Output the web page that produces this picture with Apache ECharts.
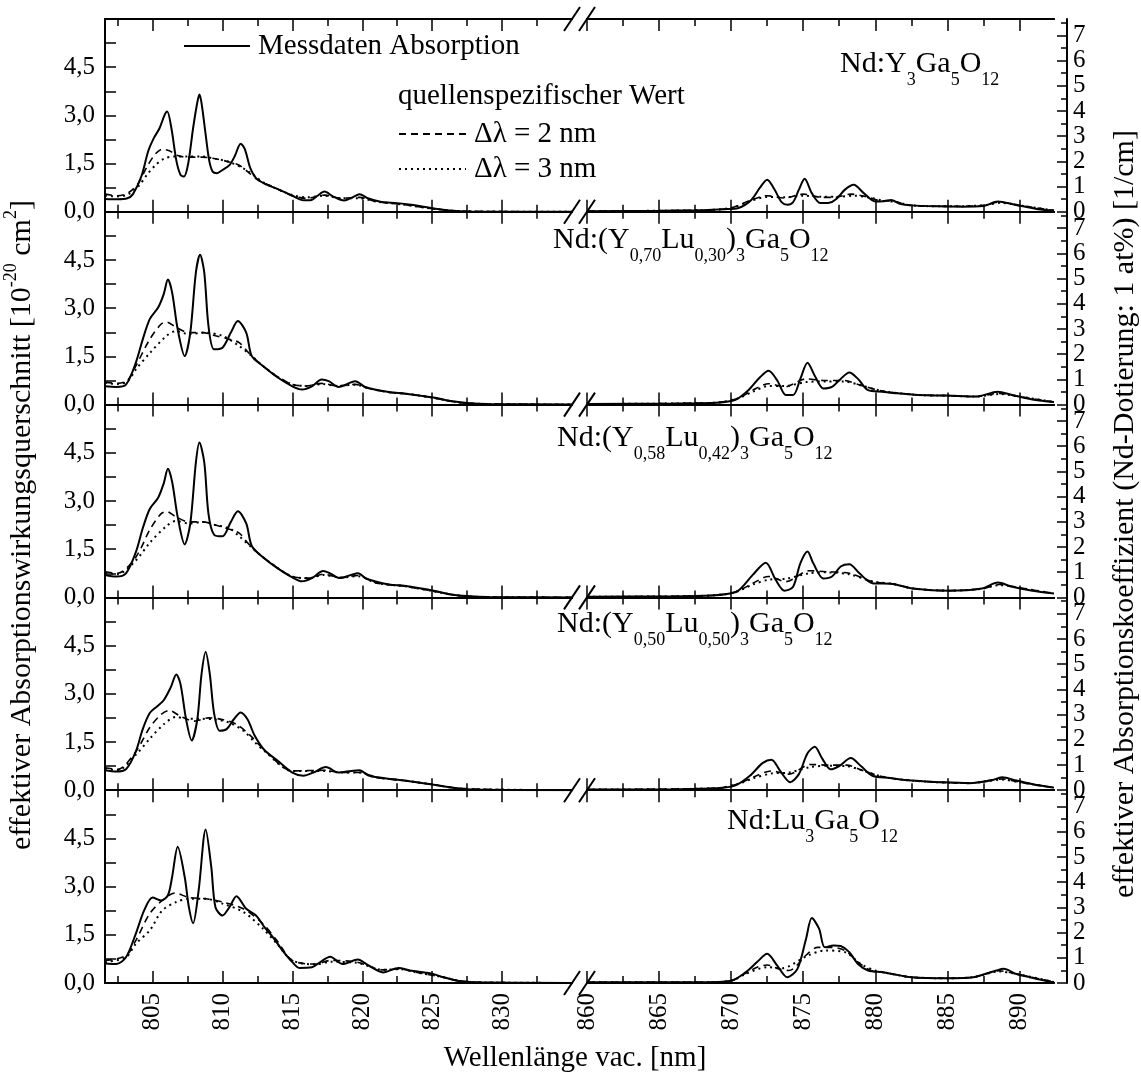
<!DOCTYPE html>
<html><head><meta charset="utf-8">
<script src="https://cdn.jsdelivr.net/npm/echarts@6/dist/echarts.min.js"></script>
<style>html,body{margin:0;padding:0;background:#fff}#c{width:1141px;height:1081px}</style>
</head><body><div id="c"></div>
<script>
const FONT = 'Liberation Serif';

// ---------- tick labels ----------
const xLeftMajor = [805, 810, 815, 820, 825, 830];
const xLeftMinor = [802.5, 807.5, 812.5, 817.5, 822.5, 827.5, 832.5];
const xRightMajor = [860, 865, 870, 875, 880, 885, 890];
const xRightMinor = [862.5, 867.5, 872.5, 877.5, 882.5, 887.5];
const yLeftLabels = [0, 1.5, 3, 4.5];
const yLeftTicks = [0, 0.75, 1.5, 2.25, 3, 3.75, 4.5, 5.25];
const yRightMajor = [0, 1, 2, 3, 4, 5, 6, 7];
const yRightMinor = [0.5, 1.5, 2.5, 3.5, 4.5, 5.5, 6.5, 7.5];

// ---------- panel labels ----------
const panelLabels = [
  '{m|Nd:Y}{s|3}{m|Ga}{s|5}{m|O}{s|12}',
  '{m|Nd:(Y}{s|0,70}{m|Lu}{s|0,30}{m|)}{s|3}{m|Ga}{s|5}{m|O}{s|12}',
  '{m|Nd:(Y}{s|0,58}{m|Lu}{s|0,42}{m|)}{s|3}{m|Ga}{s|5}{m|O}{s|12}',
  '{m|Nd:(Y}{s|0,50}{m|Lu}{s|0,50}{m|)}{s|3}{m|Ga}{s|5}{m|O}{s|12}',
  '{m|Nd:Lu}{s|3}{m|Ga}{s|5}{m|O}{s|12}'
];

// ---------- data: [wavelength nm, cross section 1e-20 cm^2] ----------
// Panel 1: Nd:Y3Ga5O12
const meas1L = [[801.6,0.40],[802.5,0.39],[803.2,0.42],[803.6,0.55],[804.2,1.10],[804.7,1.9],[805.1,2.3],[805.5,2.6],[805.85,3.0],[806.05,3.12],[806.35,2.6],[806.7,1.6],[807.0,1.15],[807.25,1.1],[807.55,1.5],[807.9,2.6],[808.2,3.4],[808.35,3.65],[808.5,3.4],[808.8,2.4],[809.05,1.6],[809.3,1.25],[809.6,1.2],[810.0,1.3],[810.5,1.45],[810.9,1.75],[811.3,2.12],[811.6,1.95],[812.0,1.35],[812.4,1.05],[813.0,0.88],[814.0,0.7],[815.0,0.5],[815.8,0.36],[816.3,0.36],[816.8,0.5],[817.3,0.63],[817.9,0.48],[818.7,0.35],[819.3,0.45],[819.8,0.55],[820.4,0.42],[821.3,0.31],[822.5,0.27],[823.5,0.22],[824.5,0.15],[825.5,0.08],[826.5,0.03],[827.5,0.01],[835,0.0]];
const dash1L = [[801.6,0.55],[802.5,0.5],[803.3,0.6],[804.0,0.9],[804.6,1.4],[805.2,1.8],[805.7,1.95],[806.2,1.9],[806.8,1.75],[807.5,1.7],[808.5,1.7],[809.5,1.65],[810.5,1.55],[811.2,1.45],[811.8,1.25],[812.5,1.0],[813.5,0.8],[815,0.5],[816,0.42],[817.3,0.52],[818.5,0.42],[819.8,0.45],[821,0.32],[823,0.22],[825,0.1],[827,0.02],[835,0]];
const dot1L = [[801.6,0.5],[802.5,0.48],[803.3,0.55],[804.0,0.8],[804.6,1.15],[805.2,1.45],[805.8,1.65],[806.5,1.72],[807.5,1.72],[808.5,1.72],[809.5,1.65],[810.5,1.55],[811.5,1.35],[812.2,1.15],[813,0.9],[815,0.52],[816,0.45],[817.3,0.5],[818.5,0.42],[819.8,0.42],[821,0.32],[823,0.22],[825,0.1],[827,0.02],[835,0]];
const meas1R = [[860,0.02],[865,0.03],[868,0.05],[869.5,0.08],[870.5,0.12],[871.4,0.37],[872.0,0.75],[872.5,1.0],[873.0,0.7],[873.5,0.3],[873.9,0.22],[874.3,0.3],[874.7,0.69],[875.1,1.03],[875.6,0.58],[876.2,0.27],[876.8,0.28],[877.3,0.4],[877.9,0.69],[878.5,0.84],[879.2,0.58],[880.0,0.32],[880.6,0.33],[881.1,0.37],[881.7,0.25],[882.5,0.2],[884.4,0.17],[886,0.16],[887.5,0.18],[888.5,0.32],[889.7,0.22],[891.3,0.08],[892.4,0.04]];
const dash1R = [[860,0.02],[868,0.05],[870,0.12],[871.3,0.35],[872.5,0.5],[873.7,0.43],[875.0,0.55],[876.3,0.45],[877.2,0.45],[878.3,0.55],[879.3,0.48],[880.3,0.35],[881.2,0.33],[882.5,0.2],[885,0.17],[887.5,0.2],[888.6,0.3],[890,0.2],[892.4,0.04]];
const dot1R = [[860,0.02],[868,0.05],[870,0.12],[871.3,0.33],[872.5,0.46],[873.7,0.45],[875.0,0.5],[876.3,0.47],[877.5,0.47],[878.5,0.5],[879.5,0.45],[880.5,0.35],[881.5,0.3],[882.5,0.2],[885,0.17],[887.5,0.2],[888.7,0.28],[890,0.2],[892.4,0.04]];

// Panel 2: Nd:(Y0,70Lu0,30)3Ga5O12
const meas2L = [[801.6,0.57],[802.4,0.55],[803.1,0.62],[803.8,1.3],[804.3,2.03],[804.8,2.66],[805.4,3.02],[805.8,3.44],[806.1,3.89],[806.4,3.49],[806.8,2.34],[807.3,1.51],[807.7,2.24],[808.1,4.11],[808.4,4.66],[808.7,4.11],[809.0,2.45],[809.4,1.72],[810.0,1.77],[810.6,2.24],[811.1,2.6],[811.7,2.24],[812.1,1.51],[812.9,1.2],[813.8,0.89],[815.0,0.57],[815.7,0.47],[816.4,0.57],[817.1,0.78],[817.6,0.73],[818.3,0.55],[819.5,0.73],[820.2,0.55],[821.9,0.39],[823.1,0.34],[825.2,0.21],[826.2,0.12],[827.5,0.05],[829,0.02],[835,0]];
const dash2L = [[801.6,0.7],[802.5,0.66],[803.2,0.75],[803.8,1.2],[804.8,2.03],[805.6,2.5],[806.0,2.57],[806.7,2.4],[807.6,2.24],[808.6,2.24],[809.5,2.14],[810.5,2.03],[811.2,1.93],[811.9,1.6],[812.9,1.2],[814,0.85],[815,0.63],[816,0.58],[817.1,0.66],[818.3,0.58],[819.5,0.63],[820.5,0.5],[822,0.38],[823.5,0.32],[825.2,0.2],[827,0.06],[829,0.02],[835,0]];
const dot2L = [[801.6,0.68],[802.5,0.64],[803.2,0.72],[803.8,1.09],[804.8,1.6],[806.0,2.14],[806.7,2.29],[807.6,2.19],[808.6,2.24],[810.0,2.14],[811.2,1.82],[812.1,1.51],[812.9,1.2],[814,0.85],[815,0.63],[816,0.58],[817.1,0.64],[818.3,0.58],[819.5,0.62],[820.5,0.5],[822,0.38],[823.5,0.32],[825.2,0.2],[827,0.06],[829,0.02],[835,0]];
const meas2R = [[860,0.02],[866,0.03],[869,0.06],[870.3,0.15],[871.2,0.45],[872.0,0.85],[872.6,1.05],[873.2,0.75],[873.8,0.3],[874.3,0.3],[874.8,0.8],[875.3,1.3],[875.8,0.9],[876.4,0.5],[877.0,0.55],[877.6,0.8],[878.2,1.0],[878.8,0.8],[879.5,0.45],[880.5,0.4],[881.5,0.35],[883,0.3],[885,0.28],[887,0.25],[888.5,0.4],[889.5,0.3],[891,0.15],[892.4,0.08]];
const dash2R = [[860,0.02],[869,0.06],[870.5,0.2],[871.5,0.45],[872.6,0.65],[873.7,0.55],[875.2,0.8],[876.5,0.75],[877.8,0.75],[879,0.6],[880.5,0.42],[883,0.3],[885,0.28],[887,0.25],[888.6,0.35],[890,0.25],[892.4,0.08]];
const dot2R = [[860,0.02],[869,0.06],[870.5,0.2],[871.5,0.4],[872.6,0.58],[873.7,0.58],[875.2,0.7],[876.5,0.72],[877.8,0.72],[879,0.6],[880.5,0.42],[883,0.3],[885,0.28],[887,0.25],[888.6,0.33],[890,0.25],[892.4,0.08]];

// Panel 3: Nd:(Y0,58Lu0,42)3Ga5O12
const meas3L = [[801.6,0.7],[802.4,0.65],[803.1,0.75],[803.8,1.4],[804.3,2.15],[804.8,2.75],[805.4,3.1],[805.8,3.55],[806.1,4.0],[806.4,3.6],[806.8,2.5],[807.3,1.65],[807.7,2.3],[808.1,4.2],[808.35,4.82],[808.7,4.2],[809.0,2.6],[809.4,1.95],[810.0,1.9],[810.6,2.35],[811.1,2.68],[811.7,2.3],[812.1,1.6],[812.9,1.25],[813.8,0.95],[815.0,0.62],[815.7,0.5],[816.4,0.6],[817.2,0.82],[817.7,0.75],[818.4,0.6],[819.2,0.7],[819.7,0.75],[820.3,0.58],[821.9,0.4],[823.0,0.36],[825.2,0.2],[826.2,0.1],[827.5,0.04],[829,0.01],[835,0]];
const dash3L = [[801.6,0.8],[802.5,0.75],[803.8,1.25],[804.8,2.1],[805.6,2.6],[806.0,2.67],[806.7,2.5],[807.6,2.35],[808.6,2.35],[809.5,2.25],[810.5,2.12],[811.2,2.0],[811.9,1.65],[812.9,1.25],[815,0.65],[816.2,0.6],[817.2,0.72],[818.5,0.62],[819.7,0.68],[821,0.45],[823,0.35],[825,0.2],[827,0.05],[829,0.01],[835,0]];
const dot3L = [[801.6,0.78],[802.5,0.72],[803.8,1.15],[804.8,1.7],[806.0,2.22],[806.7,2.38],[807.6,2.3],[808.6,2.35],[809.5,2.25],[810.5,2.15],[811.2,1.9],[812.1,1.55],[812.9,1.25],[815,0.65],[816.2,0.6],[817.2,0.7],[818.5,0.62],[819.7,0.66],[821,0.45],[823,0.35],[825,0.2],[827,0.05],[829,0.01],[835,0]];
const meas3R = [[860,0.02],[865,0.03],[867.5,0.04],[869.6,0.1],[870.5,0.21],[871.5,0.7],[872.4,1.08],[873.1,0.54],[873.7,0.21],[874.3,0.33],[874.8,1.06],[875.3,1.43],[875.7,1.06],[876.4,0.59],[877.0,0.65],[877.6,0.96],[878.2,1.03],[878.9,0.75],[879.8,0.44],[881.2,0.42],[882.6,0.28],[885.1,0.21],[887.4,0.28],[888.5,0.46],[889.5,0.33],[890.9,0.21],[892.4,0.12]];
const dash3R = [[860,0.02],[867.5,0.04],[869.6,0.1],[870.5,0.2],[871.5,0.44],[872.6,0.65],[873.8,0.49],[875.4,0.83],[876.6,0.8],[878.2,0.75],[879.8,0.49],[881.2,0.42],[882.6,0.28],[885.1,0.21],[887.4,0.27],[888.6,0.4],[890,0.3],[892.4,0.12]];
const dot3R = [[860,0.02],[867.5,0.04],[869.6,0.1],[870.5,0.2],[871.5,0.4],[872.6,0.55],[873.8,0.58],[875.4,0.75],[876.6,0.78],[878.2,0.72],[879.8,0.5],[881.2,0.42],[882.6,0.28],[885.1,0.21],[887.4,0.27],[888.6,0.38],[890,0.3],[892.4,0.12]];

// Panel 4: Nd:(Y0,50Lu0,50)3Ga5O12
const meas4L = [[801.6,0.62],[802.4,0.58],[803.1,0.65],[803.8,1.2],[804.3,1.9],[804.8,2.4],[805.3,2.6],[805.8,2.8],[806.3,3.2],[806.7,3.6],[807.0,3.3],[807.4,2.2],[807.8,1.55],[808.2,2.2],[808.5,3.6],[808.8,4.3],[809.1,3.6],[809.4,2.4],[809.8,1.85],[810.3,1.9],[810.8,2.2],[811.3,2.42],[811.8,2.2],[812.3,1.7],[813,1.25],[814,0.9],[815,0.55],[815.8,0.45],[816.5,0.55],[817.4,0.72],[818.3,0.55],[819.2,0.6],[819.8,0.62],[820.5,0.45],[822,0.35],[823,0.3],[825,0.18],[826.5,0.08],[828,0.02],[835,0]];
const dash4L = [[801.6,0.7],[802.5,0.65],[803.8,1.2],[804.8,1.95],[805.6,2.35],[806.2,2.48],[807,2.3],[808,2.15],[809,2.25],[810,2.2],[811,2.05],[812,1.7],[813,1.25],[815,0.6],[817.3,0.62],[818.5,0.55],[819.8,0.55],[821,0.4],[823,0.3],[825,0.18],[827,0.05],[835,0]];
const dot4L = [[801.6,0.68],[802.5,0.62],[803.8,1.1],[804.8,1.6],[805.8,2.05],[806.7,2.28],[807.5,2.22],[808.5,2.22],[809.5,2.2],[810.5,2.1],[811.5,1.85],[812.3,1.5],[813,1.22],[815,0.6],[817.3,0.6],[818.5,0.55],[819.8,0.55],[821,0.4],[823,0.3],[825,0.18],[827,0.05],[835,0]];
const meas4R = [[860,0.02],[866,0.03],[869,0.06],[870.3,0.15],[871.3,0.45],[872.2,0.85],[872.8,0.95],[873.4,0.6],[874.1,0.25],[874.7,0.5],[875.3,1.15],[875.8,1.35],[876.3,1.0],[876.9,0.65],[877.5,0.75],[878.3,1.0],[879,0.75],[879.8,0.45],[881,0.38],[882.5,0.3],[884.5,0.25],[886.5,0.22],[888,0.3],[888.8,0.4],[889.8,0.3],[891,0.18],[892.4,0.08]];
const dash4R = [[860,0.02],[869,0.06],[870.5,0.2],[871.6,0.42],[872.8,0.6],[874,0.5],[875.5,0.8],[876.8,0.78],[878,0.78],[879.2,0.6],[880.5,0.42],[882.5,0.3],[886.5,0.22],[888.8,0.35],[890,0.25],[892.4,0.08]];
const dot4R = [[860,0.02],[869,0.06],[870.5,0.2],[871.6,0.38],[872.8,0.52],[874,0.55],[875.5,0.72],[876.8,0.76],[878,0.75],[879.2,0.6],[880.5,0.42],[882.5,0.3],[886.5,0.22],[888.8,0.33],[890,0.25],[892.4,0.08]];

// Panel 5: Nd:Lu3Ga5O12
const meas5L = [[801.6,0.61],[802.4,0.59],[803.1,0.8],[803.8,1.53],[804.4,2.26],[805.0,2.66],[805.6,2.57],[806.1,2.73],[806.4,3.3],[806.8,4.24],[807.3,3.3],[807.6,2.36],[807.9,1.86],[808.3,2.89],[808.8,4.78],[809.2,3.61],[809.5,2.36],[810.0,2.1],[810.5,2.36],[811.0,2.7],[811.7,2.31],[812.4,2.1],[813.0,1.74],[813.6,1.43],[814.3,1.01],[815.0,0.65],[815.5,0.47],[816.4,0.49],[817.0,0.65],[817.7,0.82],[818.6,0.59],[819.7,0.73],[820.3,0.59],[821.5,0.33],[822.6,0.47],[823.4,0.39],[824.9,0.3],[825.8,0.18],[826.8,0.07],[828.0,0.02],[835,0]];
const dash5L = [[801.6,0.7],[803.1,0.85],[803.8,1.32],[804.8,2.16],[805.7,2.57],[806.6,2.8],[807.6,2.66],[808.8,2.62],[810,2.52],[811.5,2.31],[812.9,1.84],[813.9,1.32],[815,0.7],[816.7,0.59],[817.7,0.7],[819.6,0.65],[821.5,0.41],[822.6,0.44],[824,0.32],[825.8,0.18],[827,0.06],[828.5,0.02],[835,0]];
const dot5L = [[801.6,0.65],[803.1,0.8],[803.8,1.22],[804.8,1.64],[805.7,2.26],[806.7,2.52],[807.6,2.62],[808.8,2.62],[810,2.47],[811.5,2.21],[812.9,1.69],[813.9,1.22],[815,0.7],[816.7,0.58],[817.7,0.66],[819.6,0.63],[821.5,0.41],[822.6,0.43],[824,0.32],[825.8,0.18],[827,0.06],[828.5,0.02],[835,0]];
const meas5R = [[860,0.02],[865,0.02],[867.8,0.02],[870,0.07],[871,0.33],[871.8,0.65],[872.5,0.91],[873.2,0.54],[873.9,0.18],[874.6,0.44],[875.2,1.38],[875.6,2.02],[876.1,1.69],[876.5,1.11],[877.1,1.17],[877.6,1.15],[878.2,0.96],[878.8,0.59],[879.5,0.39],[880.6,0.33],[882.5,0.18],[885.0,0.15],[886.8,0.18],[888.4,0.39],[888.9,0.44],[889.8,0.28],[890.7,0.18],[892.1,0.04],[892.4,0.03]];
const dash5R = [[860,0.02],[867.8,0.02],[870,0.07],[871,0.3],[871.8,0.49],[872.5,0.56],[873.3,0.44],[874.0,0.39],[875.3,0.91],[876.0,1.11],[876.9,1.11],[877.9,1.01],[878.8,0.65],[879.7,0.39],[880.6,0.33],[882.5,0.18],[885,0.15],[886.8,0.18],[888.6,0.38],[889.8,0.28],[892.4,0.03]];
const dot5R = [[860,0.02],[867.8,0.02],[870,0.07],[871,0.28],[872.5,0.49],[873.5,0.46],[875.3,0.85],[876.5,1.01],[877.9,0.96],[879.0,0.59],[880.0,0.39],[880.6,0.33],[882.5,0.18],[885,0.15],[886.8,0.18],[888.6,0.36],[889.8,0.28],[892.4,0.03]];

const measL = [meas1L, meas2L, meas3L, meas4L, meas5L];
const measR = [meas1R, meas2R, meas3R, meas4R, meas5R];
const dashL = [dash1L, dash2L, dash3L, dash4L, dash5L];
const dashR = [dash1R, dash2R, dash3R, dash4R, dash5R];
const dotL = [dot1L, dot2L, dot3L, dot4L, dot5L];
const dotR = [dot1R, dot2R, dot3R, dot4R, dot5R];

const NAME_M = 'Messdaten Absorption';
const NAME_D2 = 'Δλ = 2 nm';
const NAME_D3 = 'Δλ = 3 nm';

// ---------- layout ----------
const TOP = 19, PH = 192.8, LEFT = 105, SEGW = 467, RIGHT_START = 587;
const panelLabelPos = [[840, 64], [553, 240], [557, 438], [557, 624], [727, 821]];
const black = '#000';
const axisLineStyle = { color: black, width: 2 };

const grids = [], xAxes = [], yAxes = [], series = [], graphics = [];

function addXAxis(g, pos, min, max, vals, len, labels) {
  xAxes.push({
    type: 'value', gridIndex: g, position: pos, min: min, max: max,
    axisLine: { show: true, onZero: false, lineStyle: axisLineStyle },
    axisTick: { show: true, inside: true, length: len, customValues: vals, lineStyle: { color: black, width: 1.5 } },
    axisLabel: labels ? { show: true, customValues: vals, rotate: 90, fontSize: 25, fontFamily: FONT, color: black, margin: 10 } : { show: false },
    splitLine: { show: false }
  });
  return xAxes.length - 1;
}

for (let p = 0; p < 5; p++) {
  const top = TOP + p * PH;
  const last = p === 4;
  for (let s = 0; s < 2; s++) {
    const g = grids.length;
    grids.push({ left: s === 0 ? LEFT : RIGHT_START, top: top, width: SEGW, height: PH, outerBoundsMode: 'none', containLabel: false });
    const min = s === 0 ? 801.6 : 860;
    const max = s === 0 ? 835 : 892.4;
    const maj = s === 0 ? xLeftMajor : xRightMajor;
    const mnr = s === 0 ? xLeftMinor : xRightMinor;
    const xi = addXAxis(g, 'bottom', min, max, maj, 12, last);
    addXAxis(g, 'bottom', min, max, mnr, 7, false);
    addXAxis(g, 'top', min, max, maj, 12, false);
    addXAxis(g, 'top', min, max, mnr, 7, false);
    let yi;
    if (s === 0) {
      yAxes.push({
        type: 'value', gridIndex: g, position: 'left', min: 0, max: 6,
        axisLine: { show: true, onZero: false, lineStyle: axisLineStyle },
        axisTick: { show: true, inside: true, length: 11, customValues: yLeftTicks, lineStyle: { color: black, width: 1.5 } },
        axisLabel: { show: true, customValues: yLeftLabels, fontSize: 25, fontFamily: FONT, color: black, margin: 10,
          formatter: v => v.toFixed(1).replace('.', ',') },
        splitLine: { show: false }
      });
      yi = yAxes.length - 1;
    } else {
      yAxes.push({ type: 'value', gridIndex: g, min: 0, max: 6, show: false });
      yi = yAxes.length - 1;
      yAxes.push({
        type: 'value', gridIndex: g, position: 'right', offset: 13, min: 0, max: 7.65,
        axisLine: { show: true, onZero: false, lineStyle: axisLineStyle },
        axisTick: { show: true, inside: true, length: 10, customValues: yRightMajor, lineStyle: { color: black, width: 1.5 } },
        axisLabel: { show: true, customValues: yRightMajor, fontSize: 25, fontFamily: FONT, color: black, margin: 6 },
        splitLine: { show: false }
      });
      yAxes.push({
        type: 'value', gridIndex: g, position: 'right', offset: 13, min: 0, max: 7.65,
        axisLine: { show: false, onZero: false },
        axisTick: { show: true, inside: true, length: 6, customValues: yRightMinor, lineStyle: { color: black, width: 1.5 } },
        axisLabel: { show: false },
        splitLine: { show: false }
      });
    }
    const m = s === 0 ? measL[p] : measR[p];
    const d = s === 0 ? dashL[p] : dashR[p];
    const t = s === 0 ? dotL[p] : dotR[p];
    const common = { type: 'line', xAxisIndex: xi, yAxisIndex: yi, symbol: 'none', smooth: 0.3, animation: false, silent: true,
      itemStyle: { color: 'rgba(0,0,0,0)' } };
    series.push(Object.assign({}, common, { name: NAME_D3, data: t, z: 3, lineStyle: { color: black, width: 2, type: [2, 4] } }));
    series.push(Object.assign({}, common, { name: NAME_D2, data: d, z: 4, lineStyle: { color: black, width: 1.6, type: [7, 5] } }));
    series.push(Object.assign({}, common, { name: NAME_M, data: m, z: 5, lineStyle: { color: black, width: 2, type: 'solid' } }));
  }
  graphics.push({
    type: 'text', x: panelLabelPos[p][0], y: panelLabelPos[p][1], z: 100,
    style: {
      text: panelLabels[p], align: 'left', verticalAlign: 'middle', fill: black,
      rich: {
        m: { fontSize: 30, fontFamily: FONT, lineHeight: 50, fill: black, color: black },
        s: { fontSize: 18, fontFamily: FONT, lineHeight: 18, verticalAlign: 'bottom', fill: black, color: black }
      }
    }
  });
}

// break marks
for (let b = 0; b <= 5; b++) {
  const yb = TOP + b * PH;
  [572, 587].forEach(cx => {
    graphics.push({ type: 'line', z: 100, shape: { x1: cx - 8, y1: yb + 12, x2: cx + 8, y2: yb - 12 }, style: { stroke: black, lineWidth: 2 } });
  });
}

// titles
graphics.push({
  type: 'text', x: 22, y: 525, rotation: Math.PI / 2, z: 100,
  style: {
    text: '{m|effektiver Absorptionswirkungsquerschnitt [10}{p|-20}{m| cm}{p|2}{m|]}',
    align: 'center', verticalAlign: 'middle', fill: black,
    rich: {
      m: { fontSize: 30, fontFamily: FONT, lineHeight: 40, fill: black, color: black },
      p: { fontSize: 18, fontFamily: FONT, lineHeight: 18, verticalAlign: 'top', fill: black, color: black }
    }
  }
});
graphics.push({
  type: 'text', x: 1125, y: 514, rotation: Math.PI / 2, z: 100,
  style: { text: 'effektiver Absorptionskoeffizient (Nd-Dotierung: 1 at%) [1/cm]', align: 'center', verticalAlign: 'middle',
    fontSize: 30, fontFamily: FONT, fill: black }
});
graphics.push({
  type: 'text', x: 575, y: 1058, z: 100,
  style: { text: 'Wellenlänge vac. [nm]', align: 'center', verticalAlign: 'middle', fontSize: 29, fontFamily: FONT, fill: black }
});
graphics.push({
  type: 'text', x: 398, y: 96, z: 100,
  style: { text: 'quellenspezifischer Wert', align: 'left', verticalAlign: 'middle', fontSize: 29, fontFamily: FONT, fill: black }
});

const legendText = { fontSize: 29, fontFamily: FONT, color: black, lineHeight: 34, padding: [0, 0, 0, 3] };
const legendItem = { opacity: 0, color: 'rgba(0,0,0,0)', borderWidth: 0 };

const option = {
  animation: false,
  backgroundColor: '#fff',
  textStyle: { fontFamily: FONT, color: black },
  grid: grids,
  xAxis: xAxes,
  yAxis: yAxes,
  legend: [
    { data: [NAME_M], left: 183, top: 29, padding: 0, itemWidth: 66, itemHeight: 14, selectedMode: false, itemStyle: legendItem, textStyle: legendText },
    { data: [NAME_D2, NAME_D3], orient: 'vertical', left: 398, top: 117, padding: 0, itemGap: 1, itemWidth: 67, itemHeight: 14, selectedMode: false, itemStyle: legendItem, textStyle: legendText }
  ],
  series: series,
  graphic: graphics
};

const chart = echarts.init(document.getElementById('c'), null, { renderer: 'canvas' });
chart.setOption(option);
</script></body></html>
